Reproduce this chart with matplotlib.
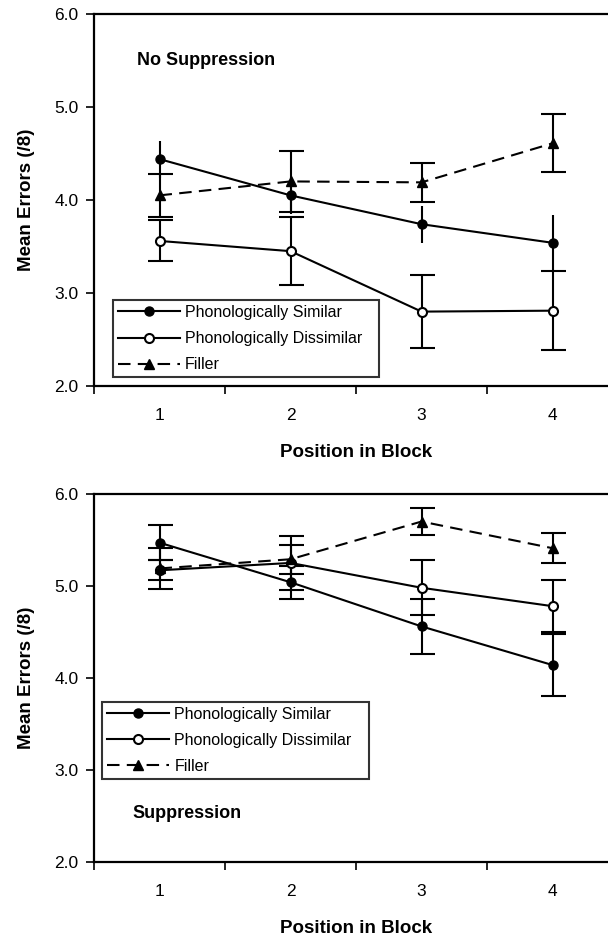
import numpy as np
import matplotlib.pyplot as plt
from matplotlib.lines import Line2D

plt.rcParams['font.family'] = ['Liberation Sans', 'DejaVu Sans']

positions = [1, 2, 3, 4]
labels = ['Phonologically Similar', 'Phonologically Dissimilar', 'Filler']

# No Suppression
ns_similar = [4.44, 4.05, 3.74, 3.54]
ns_similar_err = [0.20, 0.20, 0.20, 0.30]
ns_dissimilar = [3.56, 3.45, 2.80, 2.81]
ns_dissimilar_err = [0.22, 0.365, 0.395, 0.425]
ns_filler = [4.05, 4.20, 4.19, 4.61]
ns_filler_err = [0.235, 0.33, 0.21, 0.31]

# Suppression
s_similar = [5.47, 5.04, 4.56, 4.14]
s_similar_err = [0.19, 0.18, 0.30, 0.34]
s_dissimilar = [5.17, 5.25, 4.98, 4.78]
s_dissimilar_err = [0.11, 0.29, 0.30, 0.28]
s_filler = [5.19, 5.29, 5.70, 5.41]
s_filler_err = [0.22, 0.16, 0.15, 0.16]

yticks = [2.0, 3.0, 4.0, 5.0, 6.0]

LW = 1.5
DASH = (0, (6, 3.5))
styles = [
    dict(marker='o', ms=6.5, mfc='black', mec='black', ls='-'),
    dict(marker='o', ms=6.5, mfc='white', mec='black', mew=1.5, ls='-'),
    dict(marker='^', ms=7.5, mfc='black', mec='black', ls=DASH),
]


def draw_panel(ax, sim, sim_err, dis, dis_err, fil, fil_err, sim_cap, title, title_pos, legend_box):
    series = [(sim, sim_err, sim_cap), (dis, dis_err, 9), (fil, fil_err, 9)]
    for (vals, err, cap), st in zip(series, styles):
        ax.errorbar(positions, vals, yerr=err, color='black', lw=LW, capsize=cap,
                    capthick=LW, elinewidth=LW, zorder=3, **st)

    ax.set_xlim(0.5, 4.5)
    ax.set_ylim(2.0, 6.0)
    ax.set_yticks(yticks)
    ax.set_yticklabels([f'{t:.1f}' for t in yticks])
    ax.set_xticks(positions)
    ax.set_xticks(np.arange(0.5, 4.6, 1.0), minor=True)
    ax.tick_params(axis='x', which='major', length=0, pad=16, labelsize=12.5)
    ax.tick_params(axis='x', which='minor', length=6, width=1.2, direction='out')
    ax.tick_params(axis='y', length=6, width=1.2, direction='out', pad=5, labelsize=12.5)
    for s in ax.spines.values():
        s.set_linewidth(1.6)
    ax.set_xlabel('Position in Block', fontsize=13.5, fontweight='bold', labelpad=15)
    ax.set_ylabel('Mean Errors (/8)', fontsize=13.5, fontweight='bold', labelpad=14)
    ax.text(title_pos[0], title_pos[1], title, transform=ax.transAxes,
            fontsize=13, fontweight='bold', va='center', ha='left')

    handles = [Line2D([], [], color='black', lw=LW, **st) for st in styles]
    leg = ax.legend(handles, labels, loc='lower left', bbox_to_anchor=legend_box,
                    mode='expand', fontsize=11.5, frameon=True, fancybox=False,
                    edgecolor='black', handlelength=3.9, handletextpad=0.3,
                    labelspacing=0.7, borderpad=0.3, borderaxespad=0)
    leg.get_frame().set_linewidth(1.5)


fig = plt.figure(figsize=(6.08, 9.36), dpi=100)
ax1 = fig.add_axes([0.1546, 0.5876, 0.862, 0.3974])
ax2 = fig.add_axes([0.1546, 0.0791, 0.862, 0.3932])

draw_panel(ax1, ns_similar, ns_similar_err, ns_dissimilar, ns_dissimilar_err,
           ns_filler, ns_filler_err, 0, 'No Suppression', (0.082, 0.876),
           (0.036, 0.024, 0.508, 0.2))
draw_panel(ax2, s_similar, s_similar_err, s_dissimilar, s_dissimilar_err,
           s_filler, s_filler_err, 9, 'Suppression', (0.074, 0.133),
           (0.016, 0.226, 0.508, 0.2))

fig.savefig('out.png', dpi=100)
